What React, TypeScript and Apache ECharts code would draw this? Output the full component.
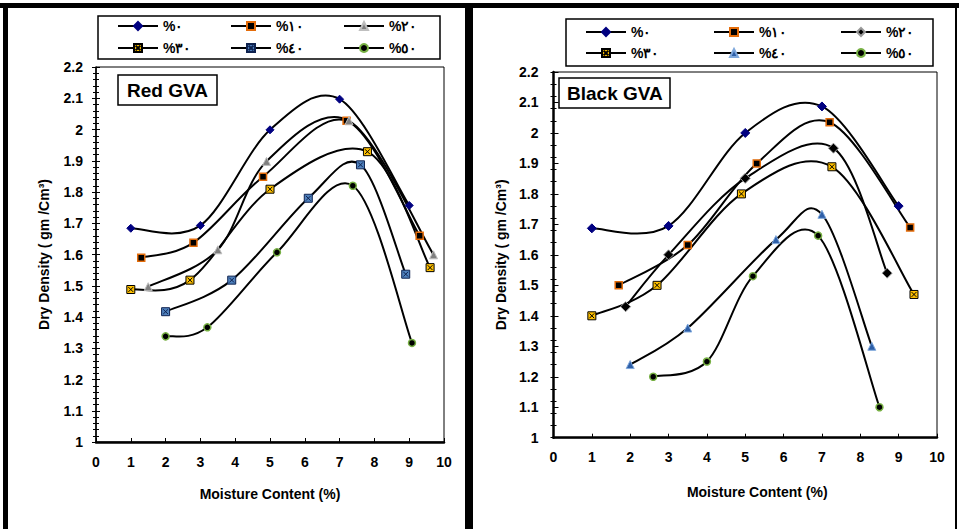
import React, { useEffect, useRef } from "react";
import * as echarts from "echarts";

const FONT = "'Liberation Sans', Arial, sans-serif";

const LEGEND_NAMES = ["%٠", "%١٠", "%٢٠", "%٣٠", "%٤٠", "%٥٠"];
const PANEL_TITLES = ["Red GVA", "Black GVA"];
const X_NAME = "Moisture Content (%)";
const Y_NAME = "Dry Density ( gm /Cm³)";

// Red GVA
const red0X = [1, 3, 5, 7, 9];
const red0Y = [1.684, 1.693, 1.999, 2.097, 1.757];
const red10X = [1.3, 2.8, 4.8, 7.2, 9.3];
const red10Y = [1.59, 1.638, 1.849, 2.028, 1.66];
const red20X = [1.5, 3.5, 4.9, 7.27, 9.7];
const red20Y = [1.497, 1.615, 1.898, 2.028, 1.599];
const red30X = [1, 2.7, 5, 7.8, 9.6];
const red30Y = [1.488, 1.518, 1.809, 1.929, 1.558];
const red40X = [2, 3.9, 6.1, 7.6, 8.9];
const red40Y = [1.417, 1.518, 1.78, 1.887, 1.537];
const red50X = [2, 3.2, 5.2, 7.38, 9.08];
const red50Y = [1.338, 1.367, 1.607, 1.82, 1.317];

// Black GVA
const black0X = [1, 3, 5, 7, 9];
const black0Y = [1.687, 1.695, 2.0, 2.087, 1.76];
const black10X = [1.7, 3.5, 5.3, 7.2, 9.3];
const black10Y = [1.5, 1.632, 1.9, 2.035, 1.69];
const black20X = [1.88, 3, 5, 7.3, 8.7];
const black20Y = [1.43, 1.6, 1.851, 1.95, 1.54];
const black30X = [1, 2.7, 4.9, 7.26, 9.4];
const black30Y = [1.4, 1.5, 1.8, 1.889, 1.47];
const black40X = [2, 3.5, 5.8, 7, 8.3];
const black40Y = [1.24, 1.36, 1.65, 1.733, 1.3];
const black50X = [2.6, 4, 5.2, 6.9, 8.5];
const black50Y = [1.2, 1.25, 1.53, 1.663, 1.1];

const XBOX = "path://M0,0L10,0L10,10L0,10Z M2,2L8,8 M8,2L2,8";

const zip = (xs: number[], ys: number[]) => xs.map((x, i) => [x, ys[i]]);

type Sty = { symbol: string; size: number; fill: string; border: string; bw: number };

const redStyles: Sty[] = [
  { symbol: "diamond", size: 8, fill: "#000080", border: "#000080", bw: 1 },
  { symbol: "rect", size: 7, fill: "#000000", border: "#E46C0A", bw: 1.5 },
  { symbol: "triangle", size: 8, fill: "#7F7F7F", border: "#BFBFBF", bw: 1 },
  { symbol: XBOX, size: 8, fill: "#FFC000", border: "#000000", bw: 1 },
  { symbol: XBOX, size: 8, fill: "#4F81BD", border: "#0F2350", bw: 1 },
  { symbol: "circle", size: 7, fill: "#000000", border: "#77B043", bw: 1.5 },
];
const blackStyles: Sty[] = [
  { symbol: "diamond", size: 9, fill: "#000080", border: "#000080", bw: 1 },
  { symbol: "rect", size: 7, fill: "#000000", border: "#E46C0A", bw: 1.5 },
  { symbol: "diamond", size: 10, fill: "#000000", border: "#9A9A9A", bw: 1 },
  { symbol: XBOX, size: 8, fill: "#FFC000", border: "#000000", bw: 1 },
  { symbol: "triangle", size: 8, fill: "#2E5FA8", border: "#7FA8DC", bw: 1 },
  { symbol: "circle", size: 7, fill: "#000000", border: "#77B043", bw: 1.5 },
];

const redData = [
  zip(red0X, red0Y), zip(red10X, red10Y), zip(red20X, red20Y),
  zip(red30X, red30Y), zip(red40X, red40Y), zip(red50X, red50Y),
];
const blackData = [
  zip(black0X, black0Y), zip(black10X, black10Y), zip(black20X, black20Y),
  zip(black30X, black30Y), zip(black40X, black40Y), zip(black50X, black50Y),
];

// Excel-like smoothed curve (Catmull-Rom Bezier in pixel space), through the axes' scales
const mkCurve = (pts: number[][], xi: number, yi: number) => ({
  type: "custom",
  coordinateSystem: "cartesian2d",
  xAxisIndex: xi,
  yAxisIndex: yi,
  data: pts,
  silent: true,
  z: 2,
  renderItem: (params: any, api: any) => {
    const i = params.dataIndex;
    const n = pts.length;
    if (i >= n - 1) return null;
    const P = (j: number) => api.coord(pts[Math.max(0, Math.min(n - 1, j))]);
    const p0 = P(i - 1), p1 = P(i), p2 = P(i + 1), p3 = P(i + 2);
    const t = 1 / 6;
    return {
      type: "bezierCurve",
      shape: {
        x1: p1[0], y1: p1[1], x2: p2[0], y2: p2[1],
        cpx1: p1[0] + (p2[0] - p0[0]) * t,
        cpy1: p1[1] + (p2[1] - p0[1]) * t,
        cpx2: p2[0] - (p3[0] - p1[0]) * t,
        cpy2: p2[1] - (p3[1] - p1[1]) * t,
      },
      style: { stroke: "#000", lineWidth: 2, fill: "none" },
    };
  },
});

const mkSeries = (prefix: string, data: number[][][], styles: Sty[], xi: number, yi: number) =>
  data.flatMap((d, i) => [
    mkCurve(d, xi, yi),
    {
      type: "line",
      name: prefix + LEGEND_NAMES[i],
      xAxisIndex: xi,
      yAxisIndex: yi,
      data: d,
      symbol: styles[i].symbol,
      symbolSize: styles[i].size,
      lineStyle: { color: "#000", width: 2, opacity: 0 },
      itemStyle: { color: styles[i].fill, borderColor: styles[i].border, borderWidth: styles[i].bw },
      z: 3 + i,
    },
  ]);

const mkLegends = (prefix: string, cols: number[], rows: number[]) =>
  LEGEND_NAMES.map((n, i) => ({
    data: [prefix + n],
    left: cols[i % 3],
    top: rows[Math.floor(i / 3)] - 8,
    padding: 0,
    itemWidth: 40,
    itemHeight: 10,
    selectedMode: false,
    lineStyle: { color: "#000", width: 2, opacity: 1, type: "solid" },
    formatter: (name: string) => name.slice(1),
    textStyle: { fontFamily: FONT, fontSize: 14, fontWeight: "bold", color: "#000" },
  }));

const axisLabel = (margin: number) => ({
  fontFamily: FONT,
  fontSize: 14,
  fontWeight: "bold",
  color: "#000",
  margin,
});

const nameStyle = { fontFamily: FONT, fontSize: 14, fontWeight: "bold", color: "#000" };

export default function App() {
  const ref = useRef<HTMLDivElement>(null);
  useEffect(() => {
    if (!ref.current) return;
    const chart = echarts.init(ref.current, undefined, { renderer: "svg" });
    const grids = [
      { left: 96, top: 67, width: 348, height: 375 },
      { left: 553.5, top: 72, width: 383.5, height: 365.7 },
    ];
    const option: any = {
      animation: false,
      backgroundColor: "#fff",
      title: [
        {
          text: PANEL_TITLES[0], left: 118, top: 75, padding: [5, 9],
          borderColor: "#000", borderWidth: 1.5, backgroundColor: "#fff",
          textStyle: { fontFamily: FONT, fontSize: 19, fontWeight: "bold", color: "#000", lineHeight: 20 },
        },
        {
          text: PANEL_TITLES[1], left: 559, top: 78, padding: [5, 8],
          borderColor: "#000", borderWidth: 1.5, backgroundColor: "#fff",
          textStyle: { fontFamily: FONT, fontSize: 19, fontWeight: "bold", color: "#000", lineHeight: 20 },
        },
      ],
      legend: [
        ...mkLegends("R", [117, 230, 343], [27, 49]),
        ...mkLegends("B", [585, 713, 840], [33, 54]),
      ],
      grid: grids.map((g) => ({ ...g, show: true, borderColor: "#000", borderWidth: 1 })),
      xAxis: [
        {
          gridIndex: 0, type: "value", min: 0, max: 10, interval: 1,
          axisLine: { lineStyle: { color: "#000", width: 2.5 } },
          axisTick: { inside: true, length: 4, lineStyle: { color: "#000" } },
          axisLabel: axisLabel(13), splitLine: { show: false },
          name: X_NAME, nameLocation: "middle", nameGap: 45, nameTextStyle: nameStyle,
        },
        {
          gridIndex: 1, type: "value", min: 0, max: 10, interval: 1,
          axisLine: { lineStyle: { color: "#000", width: 2.5 } },
          axisTick: { inside: true, length: 4, lineStyle: { color: "#000" } },
          axisLabel: axisLabel(12), splitLine: { show: false },
          name: X_NAME, nameLocation: "middle", nameGap: 47,
          nameTextStyle: { ...nameStyle, padding: [0, 0, 0, 24] },
        },
      ],
      yAxis: [
        {
          gridIndex: 0, type: "value", position: "left", min: 1, max: 2.2, interval: 0.1,
          axisLine: { lineStyle: { color: "#000", width: 1.5 } },
          axisTick: { inside: true, length: 4, lineStyle: { color: "#000" } },
          minorTick: { show: true, splitNumber: 5, length: 3, lineStyle: { color: "#000" } },
          axisLabel: axisLabel(13), splitLine: { show: false },
          name: Y_NAME, nameLocation: "middle", nameGap: 45, nameTextStyle: nameStyle,
        },
        {
          gridIndex: 0, type: "value", position: "left", min: 1, max: 2.2, interval: 0.1,
          axisLine: { show: false },
          axisTick: { inside: false, length: 4, lineStyle: { color: "#000" } },
          minorTick: { show: true, splitNumber: 5, length: 3, lineStyle: { color: "#000" } },
          axisLabel: { show: false }, splitLine: { show: false },
        },
        {
          gridIndex: 1, type: "value", position: "left", min: 1, max: 2.2, interval: 0.1,
          axisLine: { lineStyle: { color: "#000", width: 2.5 } },
          axisTick: { inside: true, length: 5, lineStyle: { color: "#000" } },
          axisLabel: axisLabel(15), splitLine: { show: false },
          name: Y_NAME, nameLocation: "middle", nameGap: 46, nameTextStyle: nameStyle,
        },
        {
          gridIndex: 1, type: "value", position: "left", min: 1, max: 2.2, interval: 0.04,
          axisLine: { show: false },
          axisTick: { inside: true, length: 3, lineStyle: { color: "#000" } },
          axisLabel: { show: false }, splitLine: { show: false },
        },
        {
          gridIndex: 1, type: "value", position: "left", min: 1, max: 2.2, interval: 0.04,
          axisLine: { show: false },
          axisTick: { inside: false, length: 3, lineStyle: { color: "#000" } },
          axisLabel: { show: false }, splitLine: { show: false },
        },
      ],
      series: [
        ...mkSeries("R", redData, redStyles, 0, 0),
        ...mkSeries("B", blackData, blackStyles, 1, 2),
      ],
      graphic: [
        { type: "rect", shape: { x: 98, y: 16, width: 342, height: 43 }, style: { fill: "none", stroke: "#000", lineWidth: 1.5 }, z: -1 },
        { type: "rect", shape: { x: 566, y: 19, width: 367, height: 47 }, style: { fill: "none", stroke: "#000", lineWidth: 1.5 }, z: -1 },
        { type: "rect", shape: { x: 0, y: 3, width: 959, height: 5 }, style: { fill: "#000" } },
        { type: "rect", shape: { x: 3, y: 3, width: 5, height: 526 }, style: { fill: "#000" } },
        { type: "rect", shape: { x: 465, y: 3, width: 8, height: 526 }, style: { fill: "#000" } },
        { type: "rect", shape: { x: 955, y: 3, width: 2, height: 526 }, style: { fill: "#000" } },
      ],
    };
    chart.setOption(option);
    return () => chart.dispose();
  }, []);
  return (
    <div
      ref={ref}
      style={{ position: "absolute", left: 0, top: 0, width: 959, height: 529, background: "#fff" }}
    />
  );
}
